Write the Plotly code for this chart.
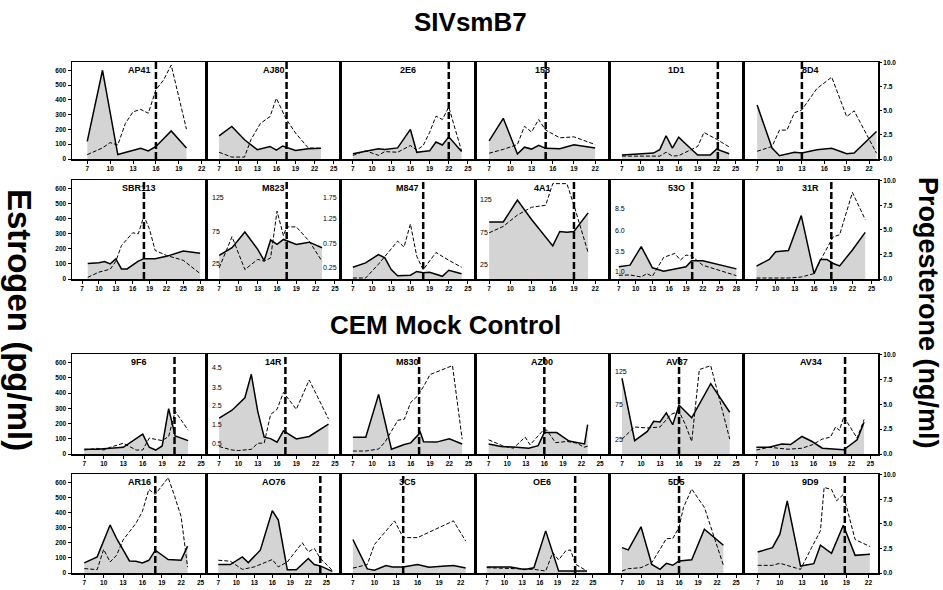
import plotly.graph_objects as go

W, H = 943, 590
FONT = "Liberation Sans"

# ---------------- data (day of cycle, estrogen pg/ml, progesterone ng/ml) ----------------
panel_names = ["AP41", "AJ80", "2E6", "158", "1D1", "8D4",
               "SBR113", "M823", "M847", "4A1", "53O", "31R",
               "9F6", "14R", "M830", "AZ00", "AV87", "AV34",
               "AR16", "AO76", "3C5", "OE6", "5D5", "9D9"]

# SIVsmB7 row 1
ap41_e_day = [7, 9, 11, 13, 14, 15, 16, 18, 20]
ap41_e = [119, 600, 30, 60, 72, 55, 85, 190, 75]
ap41_p_day = [7, 9, 10, 11, 12, 13, 14, 15, 16, 17, 18, 20]
ap41_p = [0.45, 1.15, 1.7, 1.45, 3.7, 4.9, 5.15, 4.75, 7.2, 8.2, 9.75, 3.1]

aj80_e_day = [7, 9, 11, 13, 15, 16, 17, 19, 21, 23]
aj80_e = [157, 220, 130, 63, 85, 60, 88, 58, 70, 72]
aj80_p_day = [7, 9, 11, 12, 13.5, 15, 16, 17.5, 19, 21, 23]
aj80_p = [0.7, 0.2, 0.2, 2.0, 3.7, 4.4, 6.3, 4.2, 2.7, 1.15, 1.1]

e2e6_e_day = [7, 9, 11, 12, 14, 16, 17, 18, 19, 20, 21, 22, 24]
e2e6_e = [35, 50, 70, 65, 75, 200, 45, 50, 55, 115, 95, 150, 50]
e2e6_p_day = [7, 9, 11, 12, 14, 16, 17, 18, 19, 20, 21, 22, 23, 24]
e2e6_p = [0.38, 0.85, 0.38, 0.77, 0.7, 1.4, 0.92, 1.4, 2.75, 4.45, 4.1, 5.4, 3.1, 0.85]

a158_e_day = [7, 9, 11, 12, 13, 14, 15, 17, 19, 22]
a158_e = [123, 275, 34, 80, 67, 92, 72, 70, 96, 74]
a158_p_day = [7, 9, 11, 12, 13, 14, 15, 17, 19, 22]
a158_p = [0.6, 1.0, 1.5, 3.4, 2.8, 4.1, 3.0, 2.2, 2.3, 1.5]

a1d1_e_day = [7, 10, 12, 13, 14, 15, 16, 17, 19, 21, 22, 24]
a1d1_e = [27, 33, 40, 63, 157, 74, 148, 107, 27, 27, 67, 36]
a1d1_p_day = [7, 13, 14, 15, 16, 19, 20, 22, 24]
a1d1_p = [0.3, 0.3, 0.7, 0.3, 0.35, 1.3, 2.75, 2.05, 1.25]

a8d4_e_day = [7, 9, 10, 12, 13, 15, 17, 19, 20, 23]
a8d4_e = [365, 74, 22, 45, 40, 63, 72, 36, 40, 186]
a8d4_p_day = [7, 9, 10, 11, 12, 13, 15, 17, 19, 20, 23]
a8d4_p = [0.8, 1.3, 3.0, 3.0, 4.8, 5.1, 7.3, 8.5, 4.4, 5.0, 0.6]

# SIVsmB7 row 2
sbr113_e_day = [8, 10, 11, 12, 13, 14, 15, 16, 17, 18, 20, 22, 25, 28]
sbr113_e = [102, 107, 115, 100, 133, 67, 67, 95, 118, 135, 135, 150, 185, 170]
sbr113_p_day = [8, 10, 12, 13, 14, 15, 16, 17, 18, 19, 20, 22, 25, 28]
sbr113_p = [0.17, 0.7, 1.0, 1.8, 3.4, 4.0, 4.7, 4.6, 6.4, 5.05, 2.9, 2.4, 1.9, 0.55]

m823_e_day = [7, 9, 11, 13, 14, 15, 16, 17, 19, 21, 23]
m823_e = [156, 207, 311, 196, 122, 258, 229, 262, 229, 244, 207]
m823_p_day = [7, 9, 11, 13, 14, 15, 16, 17, 17.5, 19, 21, 23]
m823_p = [1.13, 4.3, 0.96, 2.0, 1.8, 2.15, 6.9, 4.4, 5.3, 5.3, 3.85, 1.8]

m847_e_day = [7, 9, 11, 12, 13, 14, 16, 17, 18, 19, 21, 22, 24]
m847_e = [78, 107, 162, 140, 62, 22, 25, 50, 42, 45, 18, 58, 35]
m847_p_day = [7, 9, 11, 14, 15, 16, 17, 18, 20, 22, 24]
m847_p = [0.1, 0.1, 1.5, 3.85, 3.25, 5.6, 2.3, 0.95, 2.7, 1.9, 1.2]

a4a1_e_day = [7, 9, 11, 13, 16, 17, 18, 19, 21]
a4a1_e = [378, 378, 523, 394, 219, 315, 310, 315, 438]
a4a1_p_day = [7, 9, 11, 13, 15, 15.5, 16, 18, 18.5, 19, 21]
a4a1_p = [4.7, 5.35, 6.5, 7.3, 7.5, 8.6, 9.7, 9.7, 8.6, 7.5, 2.7]

a53o_e_day = [7, 9, 11, 13, 15, 18, 19, 20, 22, 28]
a53o_e = [81, 92, 215, 74, 51, 70, 81, 121, 121, 67]
a53o_p_day = [7, 9, 11, 12, 13, 15, 17, 18, 19, 20, 22, 28]
a53o_p = [0.38, 0.41, 0.2, 0.55, 0.27, 2.2, 2.6, 1.92, 2.44, 2.34, 1.4, 0.34]

a31r_e_day = [7, 9, 10, 12, 14, 16, 17, 18, 19, 20, 22, 24]
a31r_e = [85, 130, 181, 189, 420, 36, 130, 130, 103, 87, 192, 309]
a31r_p_day = [7, 10, 12, 14, 16, 17, 19, 20, 22, 24]
a31r_p = [0.1, 0.1, 0.1, 0.2, 0.55, 1.9, 4.3, 4.5, 8.8, 6.05]

# CEM Mock Control row 3
a9f6_e_day = [7, 9, 11, 13, 16, 17, 18, 19, 20, 21, 23]
a9f6_e = [31, 31, 37, 44, 130, 44, 26, 53, 298, 119, 88]
a9f6_p_day = [7, 9, 10, 11, 13, 15, 16, 17, 19, 20, 21, 23]
a9f6_p = [0.4, 0.57, 0.4, 0.68, 1.08, 0.4, 0.4, 1.6, 1.35, 1.77, 4.3, 2.4]

a14r_e_day = [7, 9, 11, 12, 13, 14, 15, 16, 17, 19, 21, 24]
a14r_e = [236, 287, 369, 523, 280, 110, 101, 77, 152, 99, 115, 196]
a14r_p_day = [7, 9, 10, 12, 13, 14, 15, 16, 17, 19, 21, 24]
a14r_p = [0.75, 0.4, 0.35, 0.47, 1.08, 1.1, 3.98, 4.5, 6.2, 4.5, 7.45, 3.54]

m830_e_day = [7, 9, 11, 13, 15, 16, 17.5, 18, 20, 22, 24]
m830_e = [110, 110, 391, 31, 62, 73, 141, 80, 78, 100, 66]
m830_p_day = [7, 9, 11, 12, 13, 14, 15, 16, 17, 18, 19, 21, 22.5, 24]
m830_p = [0.3, 0.3, 0.5, 1.2, 2.3, 3.4, 3.5, 5.2, 5.8, 6.8, 8.0, 8.5, 8.9, 1.5]

az00_e_day = [7, 9, 11.5, 13.5, 15, 16, 18, 20, 22.5, 23]
az00_e = [66, 50, 44, 38, 55, 141, 141, 85, 66, 192]
az00_p_day = [7, 9.3, 11, 12.9, 13.7, 15.9, 16.4, 17.8, 19.7, 21.3, 22.4, 23.2]
az00_p = [1.43, 0.82, 0.58, 1.7, 0.92, 2.45, 2.4, 1.15, 1.26, 1.09, 0.68, 0.82]

av87_e_day = [7, 9, 11, 12, 13, 14, 15, 16, 18, 21, 24]
av87_e = [497, 88, 148, 215, 210, 270, 192, 321, 237, 462, 274]
av87_p_day = [7, 9, 11, 13, 14.7, 16, 17, 18, 19.2, 21, 24]
av87_p = [1.5, 2.72, 2.62, 2.72, 3.98, 4.3, 2.96, 1.26, 8.5, 8.9, 1.5]

av34_e_day = [7, 9, 11, 12.4, 14.2, 15.8, 17.4, 19.5, 20.8, 22.9, 24]
av34_e = [44, 44, 66, 62, 115, 82, 38, 31, 28, 93, 208]
av34_p_day = [7, 9, 12, 14.2, 15.8, 17.4, 18.7, 19.5, 20.1, 20.8, 22.9, 24]
av34_p = [0.4, 0.68, 0.48, 0.58, 0.92, 1.5, 1.7, 2.72, 2.38, 3.74, 1.6, 3.47]

# CEM Mock Control row 4
ar16_e_day = [7, 9, 11, 12, 14, 15, 16, 17, 18, 20, 22, 23]
ar16_e = [67, 107, 318, 229, 80, 78, 67, 84, 151, 89, 84, 178]
ar16_p_day = [7, 9, 10, 11, 12, 13, 14, 15, 16, 17, 18, 20, 21, 22, 23]
ar16_p = [0.45, 0.34, 2.4, 1.12, 1.8, 3.35, 4.2, 5.05, 6.25, 8.5, 8.0, 9.7, 7.8, 5.75, 0.6]

ao76_e_day = [7, 9, 11, 12, 14, 16, 17, 18.5, 20, 22, 23, 24, 26]
ao76_e = [56, 56, 107, 69, 151, 413, 351, 22, 22, 96, 56, 47, 11]
ao76_p_day = [7, 9, 11, 13, 16, 17, 18.5, 21, 22, 23, 24, 26]
ao76_p = [1.3, 1.2, 0.37, 0.62, 1.37, 0.62, 1.12, 3.08, 2.15, 2.5, 1.48, 0.28]

a3c5_e_day = [7, 9, 10, 11.6, 12.5, 14, 16, 17.6, 19.4, 21, 22.7]
a3c5_e = [222, 27, 18, 49, 40, 40, 56, 38, 44, 49, 33]
a3c5_p_day = [7, 9, 10, 12.8, 14, 16, 21, 22.7]
a3c5_p = [0.5, 0.85, 2.9, 5.3, 3.6, 3.6, 5.3, 3.25]

oe6_e_day = [7, 9, 11, 13.4, 15, 17, 18.5, 19.2, 22, 24]
oe6_e = [40, 38, 40, 24, 35, 279, 95, 13, 13, 13]
oe6_p_day = [7, 11, 13.4, 15, 17, 18.2, 19.2, 20.4, 21.2, 22.1, 24]
oe6_p = [0.54, 0.48, 0.37, 0.37, 0.2, 2.07, 1.33, 2.25, 2.35, 0.88, 0.2]

a5d5_e_day = [7, 8, 10, 11.7, 13, 14, 15, 16, 18, 20, 23]
a5d5_e = [168, 153, 306, 57, 24, 64, 51, 80, 87, 290, 184]
a5d5_p_day = [7, 8, 10, 11.7, 13, 14, 15, 16, 16.7, 18, 20, 23]
a5d5_p = [0.2, 0.44, 0.54, 1.05, 2.41, 3.5, 3.5, 4.63, 6.67, 8.54, 6.67, 0.78]

a9d9_e_day = [7, 9, 10, 11, 12.8, 14.6, 15.5, 17, 18.6, 20.2, 22.2]
a9d9_e = [139, 168, 257, 478, 46, 62, 184, 130, 316, 117, 124]
a9d9_p_day = [7, 9, 10, 12.8, 14.3, 15.5, 16, 17, 17.7, 18.6, 20.2, 22.2]
a9d9_p = [0.78, 0.78, 0.99, 0.37, 2.58, 4.3, 8.7, 8.5, 7.35, 8.0, 3.4, 2.7]

# ovulation day (vertical dashed line) per panel
ovulation_day = [16, 17.6, 22, 15, 22.2, 13,
                 18, 17.5, 18, 19, 20.1, 18.7,
                 20.9, 17.3, 17.3, 16, 16, 21,
                 18, 24, 14, 22, 16, 18.8]
# last tick label on each panel's day axis
last_tick = [22, 25, 25, 22, 25, 22,
             28, 25, 25, 22, 28, 25,
             25, 25, 25, 25, 25, 25,
             25, 25, 22, 25, 25, 22]
# day-axis extent of each panel
x_start = [5, 5, 5.1, 5, 5, 5.2,
           5.2, 5, 5.1, 5, 5.3, 5,
           5.1, 5, 5.1, 4.8, 5, 5,
           5.1, 5, 5.3, 5, 5, 5.1]
x_end = [22.6, 26.1, 26.1, 24, 26.3, 23.2,
         29.1, 25.9, 26.1, 24, 29.3, 26,
         25.8, 25.9, 26, 26.5, 26.2, 26.2,
         25.9, 27.4, 24, 27.8, 26.2, 23.3]

estrogen_ticks = [0, 100, 200, 300, 400, 500, 600]
progesterone_ticks = [0.0, 2.5, 5.0, 7.5, 10.0]

e_days = [ap41_e_day, aj80_e_day, e2e6_e_day, a158_e_day, a1d1_e_day, a8d4_e_day,
          sbr113_e_day, m823_e_day, m847_e_day, a4a1_e_day, a53o_e_day, a31r_e_day,
          a9f6_e_day, a14r_e_day, m830_e_day, az00_e_day, av87_e_day, av34_e_day,
          ar16_e_day, ao76_e_day, a3c5_e_day, oe6_e_day, a5d5_e_day, a9d9_e_day]
e_vals = [ap41_e, aj80_e, e2e6_e, a158_e, a1d1_e, a8d4_e,
          sbr113_e, m823_e, m847_e, a4a1_e, a53o_e, a31r_e,
          a9f6_e, a14r_e, m830_e, az00_e, av87_e, av34_e,
          ar16_e, ao76_e, a3c5_e, oe6_e, a5d5_e, a9d9_e]
p_days = [ap41_p_day, aj80_p_day, e2e6_p_day, a158_p_day, a1d1_p_day, a8d4_p_day,
          sbr113_p_day, m823_p_day, m847_p_day, a4a1_p_day, a53o_p_day, a31r_p_day,
          a9f6_p_day, a14r_p_day, m830_p_day, az00_p_day, av87_p_day, av34_p_day,
          ar16_p_day, ao76_p_day, a3c5_p_day, oe6_p_day, a5d5_p_day, a9d9_p_day]
p_vals = [ap41_p, aj80_p, e2e6_p, a158_p, a1d1_p, a8d4_p,
          sbr113_p, m823_p, m847_p, a4a1_p, a53o_p, a31r_p,
          a9f6_p, a14r_p, m830_p, az00_p, av87_p, av34_p,
          ar16_p, ao76_p, a3c5_p, oe6_p, a5d5_p, a9d9_p]

# secondary scale labels printed inside some panels: (panel index, side, labels, estrogen-axis positions)
inner_labels = [
    (7, "left", ["125", "75", "25"], [538, 313, 100]),
    (7, "right", ["1.75", "1.25", "0.75", "0.25"], [538, 400, 235, 78]),
    (9, "left", ["125", "75", "25"], [529, 309, 98]),
    (10, "left", ["8.5", "6.0", "3.5", "1.0"], [464, 320, 184, 47]),
    (13, "left", ["4.5", "3.5", "2.5", "1.5", "0.5"], [567, 435, 318, 192, 71]),
    (16, "left", ["125", "75", "25"], [539, 325, 97]),
]

# ---------------- layout geometry (pixels) ----------------
col_edges = [72, 206.3, 340.7, 475, 609.3, 743.7, 878]
row_px = [(62, 159), (180, 279), (354, 454), (474, 573)]

E_MAX = 656
P_MAX = 10.07

fig = go.Figure()
layout = {}
shapes = []
annotations = []


def sfx(n):
    return "" if n == 1 else str(n)


for k in range(24):
    r, c = divmod(k, 6)
    xn = k + 1
    y1n = 2 * k + 1
    y2n = 2 * k + 2
    top, bot = row_px[r]
    xdom = [col_edges[c] / W, col_edges[c + 1] / W]
    ydom = [1 - bot / H, 1 - top / H]

    layout["xaxis" + sfx(xn)] = dict(
        domain=xdom, anchor="y" + sfx(y1n), range=[x_start[k], x_end[k]],
        tickvals=list(range(7, last_tick[k] + 1, 3)), ticks="outside", ticklen=3,
        tickwidth=1, tickcolor="black", showline=True, linecolor="black", linewidth=1.5,
        mirror=True, showgrid=False, zeroline=False, automargin=False,
        tickfont=dict(family=FONT, size=6.5, color="black", weight="bold"),
    )
    layout["yaxis" + sfx(y1n)] = dict(
        domain=ydom, anchor="x" + sfx(xn), range=[0, E_MAX],
        showline=True, linecolor="black", linewidth=1.5, mirror=True,
        showgrid=False, zeroline=False, automargin=False,
        tickvals=estrogen_ticks, ticks="outside" if c == 0 else "",
        ticklen=3, tickcolor="black", showticklabels=(c == 0),
        tickfont=dict(family=FONT, size=6.5, color="black", weight="bold"),
    )
    layout["yaxis" + sfx(y2n)] = dict(
        domain=ydom, anchor="x" + sfx(xn), overlaying="y" + sfx(y1n), side="right",
        range=[0, P_MAX], showgrid=False, zeroline=False, showline=False,
        automargin=False, tickvals=progesterone_ticks, tickformat=".1f",
        ticks="outside" if c == 5 else "", ticklen=3, tickcolor="black",
        showticklabels=(c == 5),
        tickfont=dict(family=FONT, size=6.5, color="black", weight="bold"),
    )

    fig.add_trace(go.Scatter(
        x=e_days[k], y=e_vals[k], xaxis="x" + sfx(xn), yaxis="y" + sfx(y1n),
        mode="lines", line=dict(color="black", width=1.5),
        fill="tozeroy", fillcolor="#d4d4d4", showlegend=False, hoverinfo="skip"))
    fig.add_trace(go.Scatter(
        x=p_days[k], y=p_vals[k], xaxis="x" + sfx(xn), yaxis="y" + sfx(y2n),
        mode="lines", line=dict(color="black", width=1, dash="4px,2px"),
        showlegend=False, hoverinfo="skip"))

    shapes.append(dict(
        type="line", xref="x" + sfx(xn), yref="y" + sfx(y1n) + " domain",
        x0=ovulation_day[k], x1=ovulation_day[k], y0=0, y1=1,
        line=dict(color="black", width=2.5, dash="7px,3px"), layer="above"))

    annotations.append(dict(
        text=panel_names[k], xref="x" + sfx(xn) + " domain", yref="y" + sfx(y1n) + " domain",
        x=0.5, y=0.99, xanchor="center", yanchor="top", showarrow=False,
        font=dict(family=FONT, size=9, color="black", weight="bold")))

for k, side, labels, pos in inner_labels:
    xn = k + 1
    y1n = 2 * k + 1
    for lab, v in zip(labels, pos):
        annotations.append(dict(
            text=lab, xref="x" + sfx(xn) + " domain", yref="y" + sfx(y1n),
            x=0.025 if side == "left" else 0.985, y=v,
            xanchor="left" if side == "left" else "right", yanchor="middle",
            showarrow=False, font=dict(family=FONT, size=7, color="black")))

# section titles and axis titles
annotations += [
    dict(text="SIVsmB7", xref="paper", yref="paper", x=470 / W, y=1 - 22 / H,
         xanchor="center", yanchor="middle", showarrow=False,
         font=dict(family=FONT, size=26, color="black", weight="bold")),
    dict(text="CEM Mock Control", xref="paper", yref="paper", x=445 / W, y=1 - 325 / H,
         xanchor="center", yanchor="middle", showarrow=False,
         font=dict(family=FONT, size=26, color="black", weight="bold")),
    dict(text="Estrogen (pg/ml)", xref="paper", yref="paper", x=20 / W, y=1 - 320 / H,
         xanchor="center", yanchor="middle", textangle=90, showarrow=False,
         font=dict(family=FONT, size=33, color="black", weight="bold")),
    dict(text="Progesterone (ng/ml)", xref="paper", yref="paper", x=928 / W, y=1 - 313 / H,
         xanchor="center", yanchor="middle", textangle=90, showarrow=False,
         font=dict(family=FONT, size=27, color="black", weight="bold")),
]

fig.update_layout(
    width=W, height=H, margin=dict(l=0, r=0, t=0, b=0, autoexpand=False),
    paper_bgcolor="white", plot_bgcolor="white",
    shapes=shapes, annotations=annotations, showlegend=False,
    **layout,
)

fig.write_html(
    "out.html",
    config={"displayModeBar": False, "staticPlot": True},
    post_script="document.body.style.margin='0px';document.body.style.padding='0px';"
                "document.body.style.overflow='hidden';",
)
